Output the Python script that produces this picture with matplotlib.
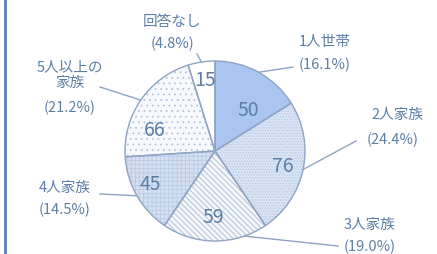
import numpy as np
import matplotlib
matplotlib.use("Agg")
import matplotlib.pyplot as plt

plt.rcParams['font.family'] = ['Noto Sans CJK JP', 'DejaVu Sans']
plt.rcParams['hatch.linewidth'] = 0.6

# data
labels = ["1人世帯", "2人家族", "3人家族", "4人家族", "5人以上の\n家族", "回答なし"]
counts = [50, 76, 59, 45, 66, 15]
pcts = ["(16.1%)", "(24.4%)", "(19.0%)", "(14.5%)", "(21.2%)", "(4.8%)"]

face = ["#a9c5f0", "#d8e3f3", "#f4f6fa", "#d5e0f1", "#f8f9fc", "#ffffff"]
hatches = [None, "......", "\\\\\\\\\\\\", "++++", "...", None]
hatch_cols = ["#a9c5f0", "#b8cae4", "#aab9d2", "#b9cbe6", "#b4c4dc", "#ffffff"]
text_col = "#5c7fa6"
edge_col = "#8fa3c2"

W, H = 437, 255
cx, cy, r = 215, H - 152, 90

fig = plt.figure(figsize=(W / 100, H / 100), dpi=100)
ax = fig.add_axes([0, 0, 1, 1])

# fill + hatch layer
wedges, _ = ax.pie(counts, startangle=90, counterclock=False, center=(cx, cy),
                   radius=r, colors=face, frame=True,
                   wedgeprops=dict(linewidth=0))
for w, h, hc in zip(wedges, hatches, hatch_cols):
    w.set_edgecolor(hc)
    if h:
        w.set_hatch(h)
# outline layer
ax.pie(counts, startangle=90, counterclock=False, center=(cx, cy), radius=r,
       colors=["none"] * len(counts), frame=True,
       wedgeprops=dict(edgecolor=edge_col, linewidth=1.0))
ax.set_xlim(0, W)
ax.set_ylim(0, H)
ax.set_aspect("equal")
ax.axis("off")

# values inside
inner_pos = [(248, 110), (283, 167), (213, 218), (150, 185), (155, 130), (205, 80)]
for v, (x, y) in zip(counts, inner_pos):
    ax.text(x, H - y, str(v), ha="center", va="center", fontsize=14, color=text_col)

# outside labels with leader lines
angles = []
start = 90
total = sum(counts)
for v in counts:
    span = 360 * v / total
    angles.append(start - span / 2)
    start -= span
angles[2] = -71

label_pos = [(325, 42), (397, 115), (370, 225), (65, 188), (70, 75), (172, 22)]
pct_pos = [(325, 65), (393, 140), (370, 247), (65, 210), (70, 108), (172, 44)]
line_end = [(293, 68), (356, 142), (338, 247), (100, 195), (100, 88), (197, 55)]

for i in range(len(counts)):
    a = np.radians(angles[i])
    sx, sy = cx + r * np.cos(a), cy + r * np.sin(a)
    ex, ey = line_end[i]
    ax.plot([sx, ex], [sy, H - ey], color=edge_col, linewidth=1.0)
    ax.text(label_pos[i][0], H - label_pos[i][1], labels[i], ha="center", va="center",
            fontsize=10.5, color=text_col, linespacing=1.2)
    ax.text(pct_pos[i][0], H - pct_pos[i][1], pcts[i], ha="center", va="center",
            fontsize=10.5, color=text_col)

# left border
ax.plot([5, 5], [0, H], color="#5b80b8", linewidth=2)

fig.savefig("out.png", dpi=100)
